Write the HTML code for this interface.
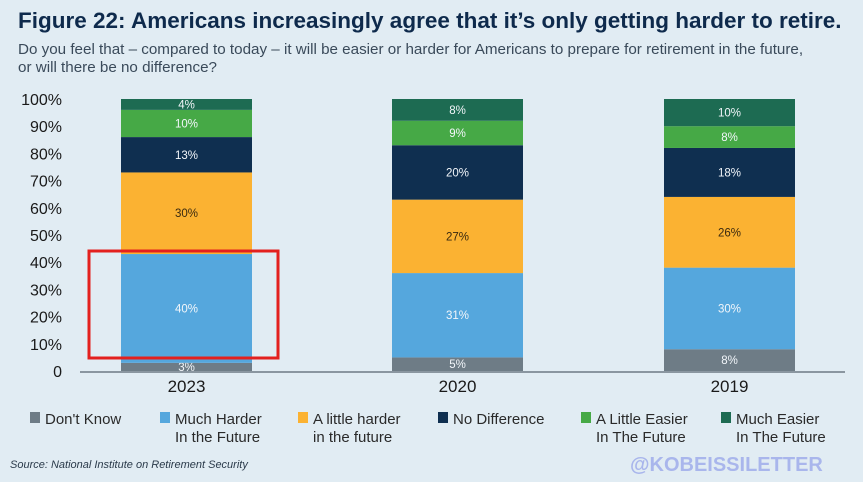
<!DOCTYPE html>
<html><head><meta charset="utf-8"><style>
body{margin:0;width:863px;height:482px;background:#e1ecf3;font-family:"Liberation Sans",sans-serif;overflow:hidden;position:relative}
.t{position:absolute;white-space:nowrap}
</style></head><body>
<div class="t" style="left:18px;top:8px;font-size:22.5px;font-weight:bold;color:#0e2a4c;letter-spacing:0px">Figure 22: Americans increasingly agree that it’s only getting harder to retire.</div>
<div class="t" style="left:18px;top:41px;font-size:15.2px;color:#3a4a5a;line-height:18px">Do you feel that – compared to today – it will be easier or harder for Americans to prepare for retirement in the future,<br>or will there be no difference?</div>
<svg id="c" width="863" height="482" style="position:absolute;left:0;top:0"></svg>
<div class="t" style="left:10px;top:459px;font-size:11px;font-style:italic;color:#2a3a4a">Source: National Institute on Retirement Security</div>
<div class="t" style="left:630px;top:454px;font-size:20px;font-weight:bold;color:#a9b6ec">@KOBEISSILETTER</div>
<script>
const years=["2023","2020","2019"];
const series=["Don't Know","Much Harder In the Future","A little harder in the future","No Difference","A Little Easier In The Future","Much Easier In The Future"];
const dontKnow=[3,5,8];
const muchHarder=[40,31,30];
const littleHarder=[30,27,26];
const noDiff=[13,20,18];
const littleEasier=[10,9,8];
const muchEasier=[4,8,10];
const yTicks=[0,10,20,30,40,50,60,70,80,90,100];
const colors=["#6e7c86","#55a7dd","#fbb232","#0f2f50","#46a946","#1d6b52"];
const vals=[dontKnow,muchHarder,littleHarder,noDiff,littleEasier,muchEasier];
const ns="http://www.w3.org/2000/svg",svg=document.getElementById('c');
const y0=371,ppu=2.72;
const y=v=>y0-v*ppu;
const xs=[121,392,664],bw=131;
function el(t,a){const e=document.createElementNS(ns,t);for(const k in a)e.setAttribute(k,a[k]);svg.appendChild(e);return e;}
yTicks.forEach(v=>{const e=el('text',{x:62,y:y(v)+6,'text-anchor':'end','font-size':16,fill:'#1a1a1a','font-family':'Liberation Sans'});e.textContent=v===0?'0':v+'%';

});
years.forEach((yr,i)=>{let acc=0;
vals.forEach((s,j)=>{const v=s[i];const r=el('rect',{x:xs[i],y:y(acc+v),width:bw,height:v*ppu,fill:colors[j]});


const t=el('text',{x:xs[i]+bw/2,y:y(acc+v/2)+4,'text-anchor':'middle','font-size':11.5,fill:j===2?'#3a2a10':'#f2f6fa','font-family':'Liberation Sans'});t.textContent=v+'%';


acc+=v;});
const l=el('text',{x:xs[i]+bw/2,y:392,'text-anchor':'middle','font-size':17,fill:'#1a1a1a','font-family':'Liberation Sans'});l.textContent=yr;

});
const ax=el('line',{x1:80,x2:845,y1:y0+1,y2:y0+1,stroke:'#8a96a0','stroke-width':2});


const hb=el('rect',{x:89,y:251,width:189,height:107,fill:'none',stroke:'#e3201e','stroke-width':3});


const lx=[30,160,298,438,581,721];
const lines=[["Don't Know"],["Much Harder","In the Future"],["A little harder","in the future"],["No Difference"],["A Little Easier","In The Future"],["Much Easier","In The Future"]];
lx.forEach((x,i)=>{const s=el('rect',{x:x,y:412,width:10,height:11,fill:colors[i]});


lines[i].forEach((ln,k)=>{const t=el('text',{x:x+15,y:424+k*18,'font-size':15,fill:'#2a2a2a','font-family':'Liberation Sans'});t.textContent=ln;

});});
</script>
</body></html>
